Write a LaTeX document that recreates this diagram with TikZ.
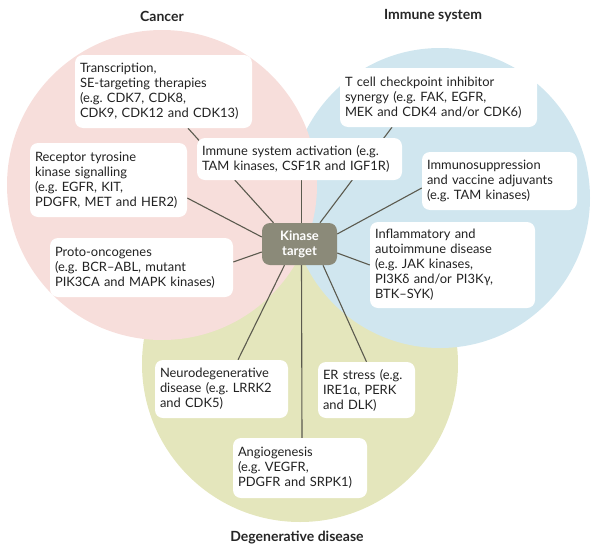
\documentclass[tikz,border=0pt]{standalone}
\usepackage{fontspec}
\setmainfont{Lato}
\usetikzlibrary{calc}
\pgfdeclarelayer{back}
\pgfdeclarelayer{mid}
\pgfsetlayers{back,mid,main}
\definecolor{pinkc}{HTML}{F7DEDB}
\definecolor{bluec}{HTML}{D0E6EF}
\definecolor{greenc}{HTML}{E4E6BC}
\definecolor{kinc}{HTML}{8B8A79}
\definecolor{linec}{HTML}{5B5A4E}
\definecolor{txtc}{HTML}{222222}
\tikzset{
  info/.style={fill=white, rounded corners=8pt, inner xsep=5pt, inner ysep=0pt,
    align=left, text=txtc, font=\fontsize{12.9}{15}\selectfont},
  kin/.style={fill=kinc, rounded corners=8pt, text=white, align=center,
    font=\bfseries\fontsize{13}{15}\selectfont},
  ttl/.style={font=\bfseries\fontsize{14}{16}\selectfont, text=black!85},
  conn/.style={draw=linec, line width=1.1pt}
}
\newcommand{\ibox}[6]{% name, x1, y1, x2, y2, text
  \node[info, minimum height={(#5-#3)*1pt}, text width={(#4-#2-10)*1pt}]
    (#1) at ({(#2+#4)/2},{(#3+#5)/2}) {#6};}
\begin{document}
\frenchspacing
\begin{tikzpicture}[x=1pt,y=-1pt]
\useasboundingbox (0,0) rectangle (600,549);
\begin{pgfonlayer}{back}
  \fill[greenc] (300,364) circle[radius=158pt];
  \fill[bluec] (440,198) circle[radius=150pt];
  \fill[pinkc] (162,185) circle[radius=155pt];
\end{pgfonlayer}
\node[ttl] (tcancer) at (162,16) {Cancer};
\node[ttl] (timmune) at (433,16) {Immune system};
\node[ttl] (tdegen) at (297,538) {Degenerative disease};

\ibox{trans}{75}{55}{252}{128}{Transcription,\\SE-targeting therapies\\(e.g. CDK7, CDK8,\\CDK9, CDK12 and CDK13)}
\ibox{rtk}{30}{143}{187}{217}{Receptor tyrosine\\kinase signalling\\(e.g. EGFR, KIT,\\PDGFR, MET and HER2)}
\ibox{imact}{197}{138}{402}{180}{Immune system activation (e.g.\\TAM kinases, CSF1R and IGF1R)}
\ibox{proto}{50}{238}{233}{297}{Proto-oncogenes\\(e.g. BCR–ABL, mutant\\PIK3CA and MAPK kinases)}
\ibox{tcell}{340}{68}{537}{127}{T cell checkpoint inhibitor\\synergy (e.g. FAK, EGFR,\\MEK and CDK4 and/or CDK6)}
\ibox{immsup}{422}{152}{577}{210}{Immunosuppression\\and vaccine adjuvants\\(e.g. TAM kinases)}
\ibox{inflam}{370}{222}{535}{308}{Inflammatory and\\autoimmune disease\\(e.g. JAK kinases,\\PI3Kδ and/or PI3Kγ,\\BTK–SYK)}
\ibox{neuro}{155}{360}{288}{418}{Neurodegenerative\\disease (e.g. LRRK2\\and CDK5)}
\ibox{er}{318}{362}{415}{418}{ER stress (e.g.\\IRE1α, PERK\\and DLK)}
\ibox{angio}{233}{438}{367}{498}{Angiogenesis\\(e.g. VEGFR,\\PDGFR and SRPK1)}
\node[kin, minimum width=75pt, minimum height=42pt, inner sep=0pt] (kinase) at (299.5,244) {Kinase\\target};

\begin{pgfonlayer}{mid}
  \draw[conn] ([xshift=-26pt]kinase.north) -- ([xshift=24.5pt]trans.south);
  \draw[conn] ([yshift=7pt]kinase.west) -- ([yshift=-18pt]rtk.east);
  \draw[conn] ([yshift=-8pt]kinase.west) -- ([yshift=5.5pt]proto.east);
  \draw[conn] ([xshift=2pt]kinase.north) -- ([xshift=2pt]imact.south);
  \draw[conn] ([xshift=20.5pt]kinase.north) -- ([xshift=-46.5pt]tcell.south);
  \draw[conn] ([yshift=10pt]kinase.east) -- ([yshift=-7pt]immsup.west);
  \draw[conn] ([yshift=-9pt]kinase.east) -- (inflam.west);
  \draw[conn] ([xshift=-15pt]kinase.south) -- ([xshift=16.5pt]neuro.south |- neuro.north);
  \draw[conn] ([xshift=2pt]kinase.south) -- ([xshift=2pt]angio.north);
  \draw[conn] ([xshift=23.5pt]kinase.south) -- (er.north);
\end{pgfonlayer}
\end{tikzpicture}
\end{document}
